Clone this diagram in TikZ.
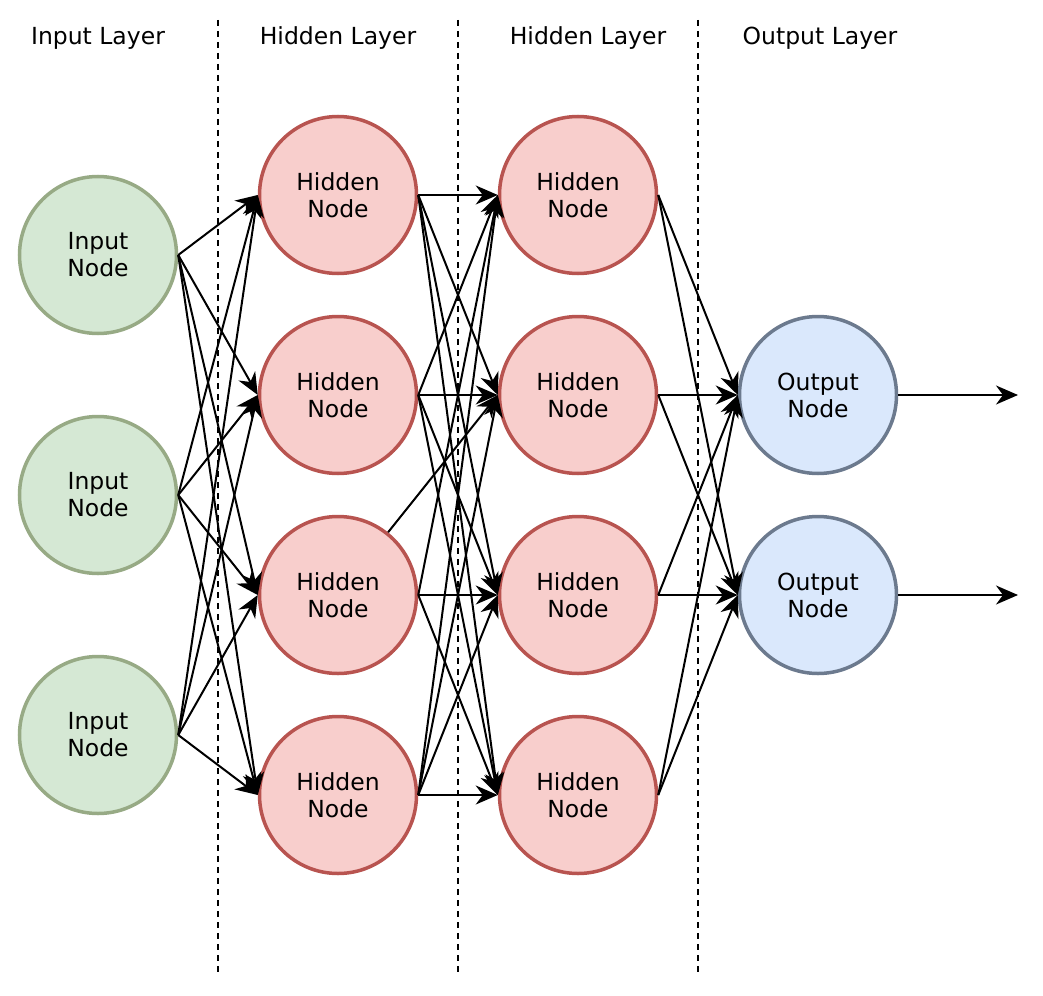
\documentclass[tikz,border=0pt]{standalone}
\usepackage{fontspec}
\setmainfont{DejaVu Sans}
\usetikzlibrary{arrows.meta}
\definecolor{inF}{HTML}{D5E8D4}
\definecolor{inS}{HTML}{97AA85}
\definecolor{hiF}{HTML}{F8CECC}
\definecolor{hiS}{HTML}{B85450}
\definecolor{ouF}{HTML}{DAE8FC}
\definecolor{ouS}{HTML}{6C7A8E}
\tikzset{
  neuron/.style={circle, minimum size=157pt, inner sep=0pt, line width=3.5pt, align=center, font=\fontsize{23.5}{27}\selectfont},
  inn/.style={neuron, fill=inF, draw=inS},
  hid/.style={neuron, fill=hiF, draw=hiS},
  outn/.style={neuron, fill=ouF, draw=ouS},
  conn/.style={line width=2pt, -{Stealth[length=22pt, width=19pt, inset=7pt]}},
  sep/.style={line width=2pt, dash pattern=on 6pt off 5pt},
  lay/.style={font=\fontsize{23.5}{27}\selectfont, inner sep=0pt}
}
\begin{document}
\begin{tikzpicture}[x=1pt, y=-1pt]
\useasboundingbox (0,0) rectangle (1043,995);
\coordinate (d1a) at (218,20); \coordinate (d1b) at (218,975);
\coordinate (d2a) at (458,20); \coordinate (d2b) at (458,975);
\coordinate (d3a) at (698,20); \coordinate (d3b) at (698,975);
\draw[sep] (d1a) -- (d1b);
\draw[sep] (d2a) -- (d2b);
\draw[sep] (d3a) -- (d3b);
\node[lay] (l1) at (98,38) {Input Layer};
\node[lay] (l2) at (338,38) {Hidden Layer};
\node[lay] (l3) at (588,38) {Hidden Layer};
\node[lay] (l4) at (820,38) {Output Layer};
\foreach \i/\y in {1/255,2/495,3/735} \node[inn] (i\i) at (98,\y) {Input\\Node};
\foreach \i/\y in {1/195,2/395,3/595,4/795} \node[hid] (a\i) at (338,\y) {Hidden\\Node};
\foreach \i/\y in {1/195,2/395,3/595,4/795} \node[hid] (b\i) at (578,\y) {Hidden\\Node};
\foreach \i/\y in {1/395,2/595} \node[outn] (o\i) at (818,\y) {Output\\Node};
\coordinate (e1) at (1018,395);
\coordinate (e2) at (1018,595);
\foreach \s in {1,2,3} \foreach \t in {1,2,3,4} \draw[conn] (i\s.east) -- (a\t.west);
\foreach \s in {1,2,4} \foreach \t in {1,2,3,4} \draw[conn] (a\s.east) -- (b\t.west);
\draw[conn] (a3.east) -- (b1.west);
\draw[conn] (a3) -- (b2.west);
\draw[conn] (a3.east) -- (b3.west);
\draw[conn] (a3.east) -- (b4.west);
\foreach \s in {1,2,3,4} \foreach \t in {1,2} \draw[conn] (b\s.east) -- (o\t.west);
\draw[conn] (o1.east) -- (e1);
\draw[conn] (o2.east) -- (e2);
\end{tikzpicture}
\end{document}
